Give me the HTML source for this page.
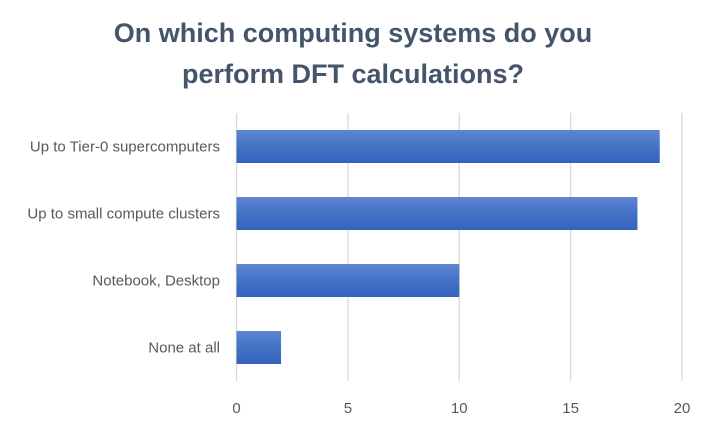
<!DOCTYPE html>
<html><head><meta charset="utf-8"><style>
body{margin:0;background:#fff;font-family:"Liberation Sans",sans-serif}
svg text{font-family:"Liberation Sans",sans-serif}
</style></head><body>
<svg width="707" height="424" viewBox="0 0 707 424">
<defs><linearGradient id="g" x1="0" y1="0" x2="0" y2="1"><stop offset="0" stop-color="#5f85d2"/><stop offset="0.5" stop-color="#4472c4"/><stop offset="1" stop-color="#3462be"/></linearGradient></defs>
<text x="353" y="42" text-anchor="middle" font-size="27" font-weight="bold" fill="#44546a">On which computing systems do you</text>
<text x="353" y="83" text-anchor="middle" font-size="27" font-weight="bold" fill="#44546a">perform DFT calculations?</text>
<g id="grid"></g><g id="bars"></g><g id="labels"></g>
</svg>
<script>
const categories=["Up to Tier-0 supercomputers","Up to small compute clusters","Notebook, Desktop","None at all"];
const values=[19,18,10,2];
const ticks=[0,5,10,15,20];
const ns="http://www.w3.org/2000/svg";
const plotLeft=236.5,plotRight=682,plotTop=113,plotBottom=381;
const xs=v=>plotLeft+(plotRight-plotLeft)*v/20;
const band=(plotBottom-plotTop)/categories.length;
const gg=document.getElementById('grid'),bb=document.getElementById('bars'),ll=document.getElementById('labels');
ticks.forEach(t=>{
 const ln=document.createElementNS(ns,'line');
 
 
 ln.setAttribute('x1',xs(t));ln.setAttribute('x2',xs(t));ln.setAttribute('y1',plotTop);ln.setAttribute('y2',plotBottom);
 ln.setAttribute('stroke','#d9d9d9');ln.setAttribute('stroke-width','1.3');gg.appendChild(ln);
 const tx=document.createElementNS(ns,'text');
 
 
 tx.setAttribute('x',xs(t));tx.setAttribute('y',413);tx.setAttribute('text-anchor','middle');
 tx.setAttribute('font-size','15');tx.setAttribute('fill','#595959');tx.textContent=t;ll.appendChild(tx);
});
categories.forEach((c,i)=>{
 const cy=plotTop+band*(i+0.5);
 const r=document.createElementNS(ns,'rect');
 
 
 r.setAttribute('x',xs(0));r.setAttribute('y',cy-16.5);r.setAttribute('width',xs(values[i])-xs(0));r.setAttribute('height',33);
 r.setAttribute('fill','url(#g)');bb.appendChild(r);
 const tx=document.createElementNS(ns,'text');
 
 
 tx.setAttribute('x',220);tx.setAttribute('y',cy+5);tx.setAttribute('text-anchor','end');
 tx.setAttribute('font-size','15');tx.setAttribute('fill','#595959');tx.textContent=c;ll.appendChild(tx);
});
</script>
</body></html>
